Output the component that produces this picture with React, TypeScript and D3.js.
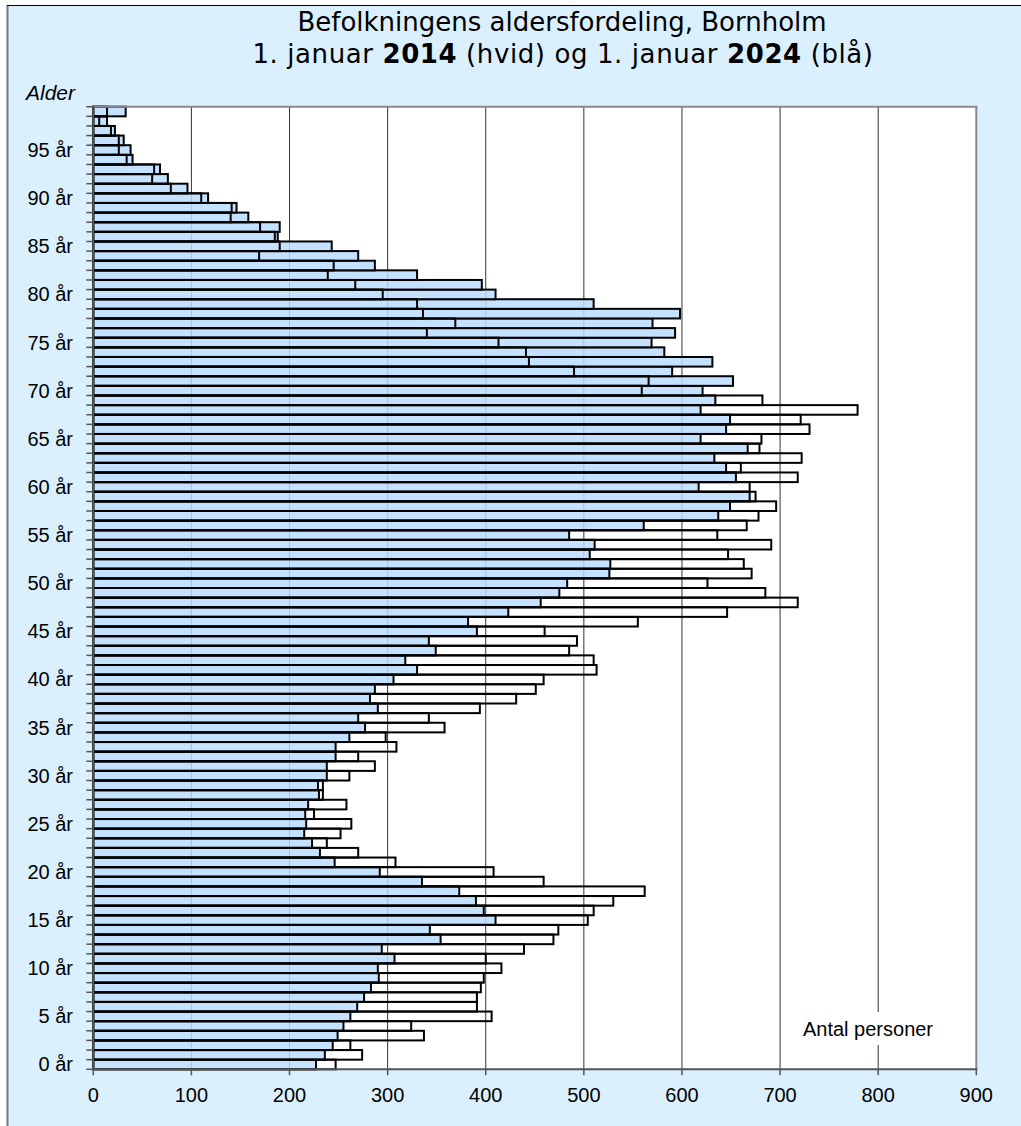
import React from "react";
import * as d3 from "d3";

const ages: number[] = d3.range(0, 100);

// Population 1 Jan 2014 (white bars), index = age
const pop2014: number[] = [
  247, 274, 262, 337, 324, 406, 391, 391, 395, 398,
  416, 400, 439, 469, 474, 504, 510, 530, 562, 459,
  408, 308, 270, 238, 252, 263, 225, 258, 234, 234,
  261, 287, 270, 309, 298, 358, 342, 394, 431, 451,
  459, 513, 510, 485, 493, 460, 555, 646, 718, 685,
  626, 671, 663, 647, 691, 636, 666, 678, 696, 675,
  669, 718, 660, 722, 679, 681, 730, 721, 779, 682,
  559, 566, 490, 444, 441, 413, 340, 369, 336, 330,
  295, 267, 239, 245, 169, 190, 185, 170, 140, 141,
  110, 79, 60, 62, 34, 26, 26, 18, 6, 14,
];

// Population 1 Jan 2024 (blue bars), index = age
const pop2024: number[] = [
  227, 236, 244, 249, 255, 262, 269, 276, 283, 291,
  290, 307, 294, 354, 343, 410, 398, 390, 373, 335,
  292, 246, 231, 223, 215, 217, 216, 219, 230, 229,
  238, 238, 247, 247, 261, 277, 270, 290, 282, 287,
  306, 330, 318, 349, 342, 391, 382, 423, 456, 475,
  483, 526, 527, 506, 511, 485, 561, 637, 649, 669,
  617, 655, 645, 633, 667, 619, 645, 649, 619, 634,
  621, 652, 590, 631, 582, 569, 593, 570, 598, 510,
  410, 396, 330, 287, 270, 243, 188, 190, 158, 146,
  117, 96, 76, 68, 40, 38, 31, 22, 14, 33,
];

const xTicks: number[] = [0, 100, 200, 300, 400, 500, 600, 700, 800, 900];
const yLabelAges: number[] = [0, 5, 10, 15, 20, 25, 30, 35, 40, 45, 50, 55, 60, 65, 70, 75, 80, 85, 90, 95];

const W = 1021;
const H = 1126;
const left = 93.3;
const right = 976.3;
const top = 106.7;
const bottom = 1069.3;

export default function App() {
  const x = d3.scaleLinear().domain([0, 900]).range([left, right]);
  const y = d3
    .scaleBand<number>()
    .domain([...ages].reverse())
    .range([top, bottom])
    .padding(0);
  const bw = y.bandwidth();
  const boundaries = d3.range(0, 101).map((i) => bottom - i * bw);

  const axisFont = "'Liberation Sans', Arial, sans-serif";
  const titleFont = "'DejaVu Sans', Verdana, sans-serif";

  return (
    <svg
      width={W}
      height={H}
      style={{ position: "absolute", left: 0, top: 0, display: "block" }}
    >
      {/* outer panel */}
      <rect x={0} y={0} width={W} height={H} fill="#ffffff" />
      <rect x={7.5} y={5.5} width={W + 10} height={H + 10} fill="#dbf0ff" stroke="none" />
      <line x1={7.5} y1={5} x2={7.5} y2={H} stroke="#777" strokeWidth={2} />
      <line x1={7} y1={5.5} x2={W} y2={5.5} stroke="#000" strokeWidth={1} />

      {/* title */}
      <text x={562} y={31} textAnchor="middle" fontFamily={titleFont} fontSize={26} fill="#000">
        Befolkningens aldersfordeling, Bornholm
      </text>
      <text
        x={563}
        y={63}
        textAnchor="middle"
        fontFamily={titleFont}
        fontSize={26}
        letterSpacing={0.6}
        fill="#000"
      >
        1. januar <tspan fontWeight="bold">2014</tspan> (hvid) og 1. januar{" "}
        <tspan fontWeight="bold">2024</tspan> (blå)
      </text>

      {/* plot background */}
      <rect x={left} y={top} width={right - left} height={bottom - top} fill="#ffffff" />

      {/* gridlines */}
      {xTicks
        .filter((t) => t > 0 && t < 900)
        .map((t) => (
          <line
            key={"g" + t}
            x1={x(t)}
            x2={x(t)}
            y1={top}
            y2={bottom}
            stroke="#333"
            strokeWidth={1}
          />
        ))}

      {/* label box */}
      <rect x={796} y={1012} width={144} height={33} fill="#ffffff" />
      <text x={868} y={1036} textAnchor="middle" fontFamily={axisFont} fontSize={20} fill="#000">
        Antal personer
      </text>

      {/* 2024 bars (blue) */}
      {ages.map((a) => (
        <rect
          key={"b" + a}
          x={x(0)}
          y={y(a)!}
          width={x(pop2024[a]) - x(0)}
          height={bw}
          fill="#badcff"
          fillOpacity={0.85}
          stroke="#000"
          strokeWidth={2}
        />
      ))}

      {/* 2014 bars (white / outline) */}
      {ages.map((a) => (
        <rect
          key={"w" + a}
          x={x(0)}
          y={y(a)!}
          width={x(pop2014[a]) - x(0)}
          height={bw}
          fill="none"
          stroke="#000"
          strokeWidth={2}
        />
      ))}

      {/* plot border top/right */}
      <line x1={left} x2={right + 1} y1={top} y2={top} stroke="#888" strokeWidth={2} />
      <line x1={right} x2={right} y1={top} y2={bottom} stroke="#888" strokeWidth={2} />

      {/* axes */}
      <line x1={left} x2={left} y1={top} y2={bottom + 1} stroke="#555" strokeWidth={2} />
      <line x1={left - 1} x2={right + 1} y1={bottom} y2={bottom} stroke="#555" strokeWidth={2} />

      {/* y ticks */}
      {boundaries.map((b, i) => (
        <line key={"yt" + i} x1={left - 7} x2={left} y1={b} y2={b} stroke="#555" strokeWidth={1.5} />
      ))}
      {/* x ticks */}
      {xTicks.map((t) => (
        <line key={"xt" + t} x1={x(t)} x2={x(t)} y1={bottom} y2={bottom + 6} stroke="#555" strokeWidth={1.5} />
      ))}

      {/* y labels */}
      {yLabelAges.map((a) => (
        <text
          key={"yl" + a}
          x={73}
          y={y(a)! + bw / 2 + 7}
          textAnchor="end"
          fontFamily={axisFont}
          fontSize={20}
          fill="#000"
        >
          {a} år
        </text>
      ))}
      <text x={26} y={100} fontFamily={axisFont} fontSize={21} fontStyle="italic" fill="#000">
        Alder
      </text>

      {/* x labels */}
      {xTicks.map((t) => (
        <text
          key={"xl" + t}
          x={x(t)}
          y={1102}
          textAnchor="middle"
          fontFamily={axisFont}
          fontSize={20}
          fill="#000"
        >
          {t}
        </text>
      ))}
    </svg>
  );
}
